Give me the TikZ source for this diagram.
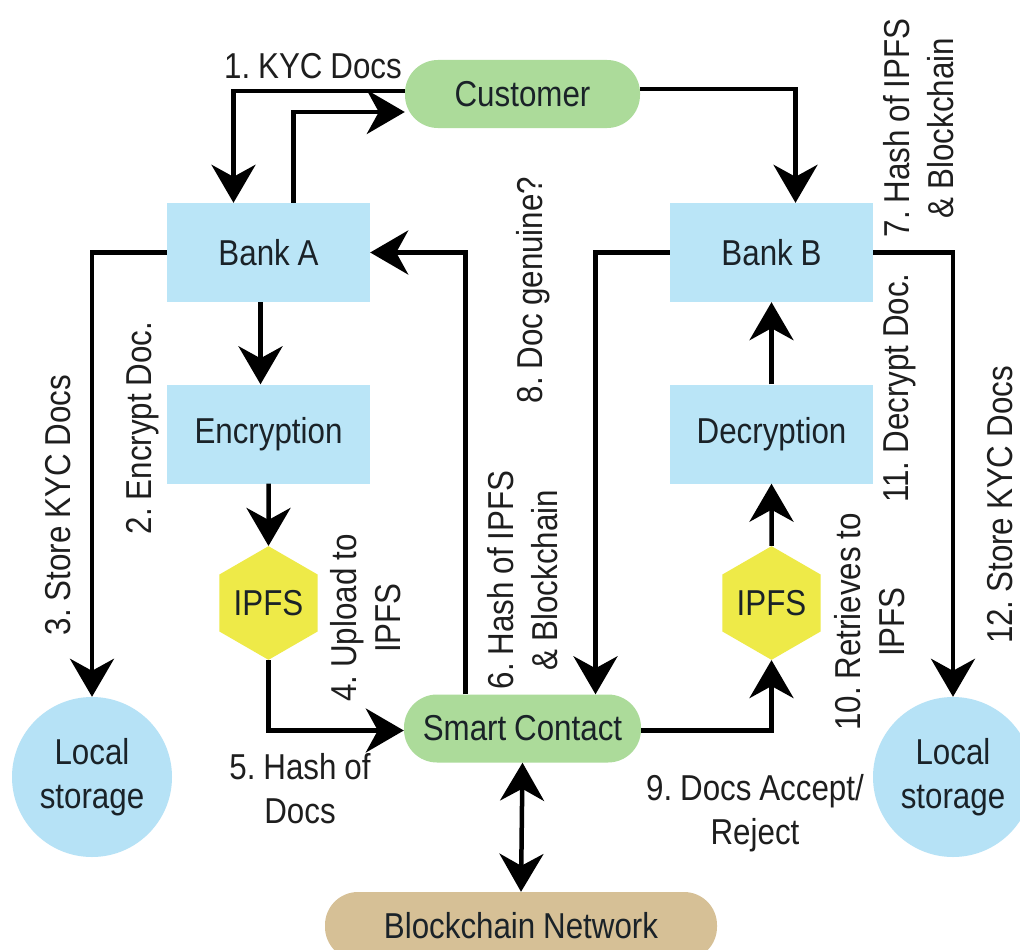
\documentclass[tikz,border=0pt]{standalone}
\usepackage{fontspec}
\setmainfont{Liberation Sans}[FakeStretch=0.87,WordSpace=0.9]
\frenchspacing
\usetikzlibrary{shapes.geometric,arrows.meta}
\definecolor{pillgreen}{RGB}{172,219,154}
\definecolor{boxblue}{RGB}{186,229,247}
\definecolor{circblue}{RGB}{182,226,246}
\definecolor{hexyellow}{RGB}{238,234,72}
\definecolor{tan}{RGB}{214,192,150}
\definecolor{txt}{RGB}{26,34,40}
\definecolor{lbltxt}{RGB}{30,30,30}
\begin{document}
\begin{tikzpicture}[x=1pt,y=-1pt,
  every node/.style={font=\fontsize{36}{44}\selectfont\frenchspacing, inner sep=0pt},
  box/.style={rectangle, fill=boxblue, minimum width=203pt, minimum height=99pt, text=txt},
  pill/.style={rectangle, rounded corners=33pt, minimum height=68pt, text=txt},
  hexa/.style={regular polygon, regular polygon sides=6, shape border rotate=90, fill=hexyellow, minimum size=108pt, text=txt},
  store/.style={circle, fill=circblue, minimum size=160pt, text=txt, align=center},
  lbl/.style={text=lbltxt, align=center},
  vlbl/.style={lbl, rotate=90},
  tip/.tip={Stealth[length=38pt,width=44pt,inset=12pt]},
  arr/.style={line width=4.5pt, -tip},
  arrs/.style={line width=4.5pt, tip-tip}
]
\useasboundingbox[fill=white] (0,0) rectangle (1020,950);

% nodes
\node[pill, fill=pillgreen, minimum width=235pt] (cust) at (522.5,94) {Customer};
\node[box] (bankA) at (268.5,252.5) {Bank A};
\node[box] (bankB) at (771.5,252.5) {Bank B};
\node[box] (enc) at (268.5,434) {Encryption};
\node[box] (dec) at (771.5,434) {Decryption};
\node[hexa] (ipfsA) at (268.5,603) {IPFS};
\node[hexa] (ipfsB) at (771.5,603) {IPFS};
\node[pill, fill=pillgreen, minimum width=237pt] (sc) at (522.5,728.5) {Smart Contact};
\node[pill, fill=tan, minimum width=392pt] (bc) at (521,926) {Blockchain Network};
\node[store] (lsA) at (92,777) {Local\\storage};
\node[store] (lsB) at (953,777) {Local\\storage};

% connectors
\draw[arr] ([yshift=3pt]cust.west) -| ([xshift=-35pt]bankA.north);
\draw[arr] ([xshift=25pt]bankA.north) |- ([yshift=-18pt]cust.west);
\draw[arr] ([yshift=5pt]cust.east) -| ([xshift=24pt]bankB.north);
\draw[arr] (bankA.west) -| (lsA.north);
\draw[arr] ([xshift=-8pt]bankA.south) -- ([xshift=-8pt]enc.north);
\draw[arr] (enc.south) -- (ipfsA.north);
\draw[arr] (ipfsA.south) |- ([yshift=-2pt]sc.west);
\draw[arr] ([xshift=-57pt]sc.north) |- (bankA.east);
\draw[arr] (bankB.west) -| ([xshift=73pt]sc.north);
\draw[arr] (bankB.east) -| (lsB.north);
\draw[arr] (dec.north) -- (bankB.south);
\draw[arr] (ipfsB.north) -- (dec.south);
\draw[arr] ([yshift=-2pt]sc.east) -| (ipfsB.south);
\draw[arrs] (sc.south) -- (bc.north);

% labels
\node[lbl] (l1) at (313,66) {1. KYC Docs};
\node[vlbl] (l2) at (143,428) {2. Encrypt Doc.};
\node[vlbl] (l3) at (58,505) {3. Store KYC Docs};
\node[vlbl] (l4) at (366,618) {4. Upload to\\IPFS};
\node[lbl] (l5) at (300,789) {5. Hash of\\Docs};
\node[vlbl] (l6) at (523,580) {6. Hash of IPFS\\\& Blockchain};
\node[vlbl] (l7) at (919,128) {7. Hash of IPFS\\\& Blockchain};
\node[vlbl] (l8) at (533,290) {8. Doc genuine?};
\node[lbl] (l9) at (755,813) {9. Docs Accept/\\Reject};
\node[vlbl] (l10) at (870,622) {10. Retrieves to\\IPFS};
\node[vlbl] (l11) at (900,388) {11. Decrypt Doc.};
\node[vlbl] (l12) at (1000,505) {12. Store KYC Docs};
\end{tikzpicture}
\end{document}
